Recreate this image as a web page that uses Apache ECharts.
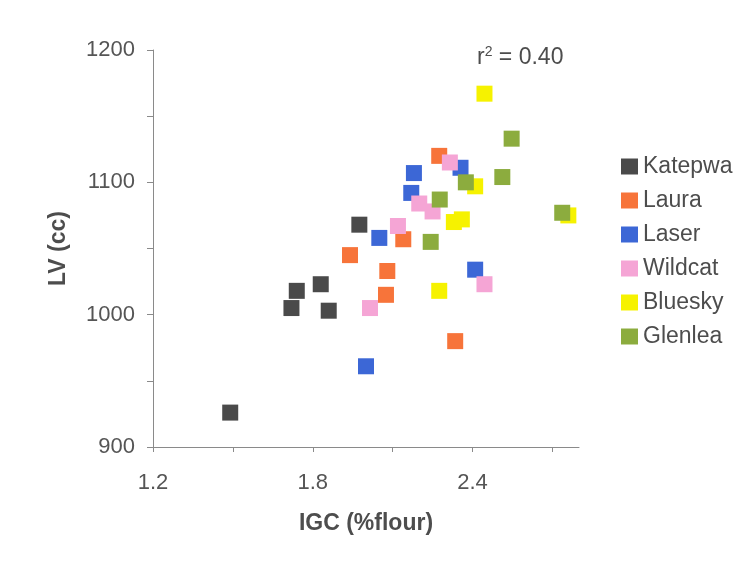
<!DOCTYPE html>
<html>
<head>
<meta charset="utf-8">
<script src="https://cdn.jsdelivr.net/npm/echarts@6/dist/echarts.min.js"></script>
<style>
  html, body { margin: 0; padding: 0; background: #fff; }
  #chart { width: 744px; height: 561px; }
</style>
</head>
<body>
<div id="chart"></div>
<script>
// Cultivar names (legend order = draw order)
const cultivars = ['Katepwa', 'Laura', 'Laser', 'Wildcat', 'Bluesky', 'Glenlea'];
const colors = ['#4a4a4a', '#f7743a', '#3c67d6', '#f5a5d5', '#f6f200', '#8cac3e'];

// [IGC (%flour), LV (cc)] per cultivar
const katepwa = [[1.49, 926], [1.72, 1005], [1.74, 1018], [1.83, 1023], [1.86, 1003], [1.975, 1068]];
const laura   = [[2.275, 1120], [1.94, 1045], [2.14, 1057], [2.08, 1033], [2.075, 1015], [2.335, 980]];
const laser   = [[2.18, 1107], [2.17, 1092], [2.355, 1111], [2.05, 1058], [2.41, 1034], [2.0, 961]];
const wildcat = [[2.315, 1115], [2.20, 1084], [2.25, 1078], [2.12, 1067], [2.445, 1023], [2.015, 1005]];
const bluesky = [[2.445, 1167], [2.41, 1097], [2.33, 1070], [2.36, 1072], [2.275, 1018], [2.76, 1075]];
const glenlea = [[2.547, 1133], [2.512, 1104], [2.375, 1100], [2.277, 1087], [2.243, 1055], [2.737, 1077]];
const seriesData = [katepwa, laura, laser, wildcat, bluesky, glenlea];

// Axis ticks and labels
const xTicks = [1.2, 1.5, 1.8, 2.1, 2.4, 2.7];
const xLabels = [1.2, 1.8, 2.4];
const yTicks = [900, 950, 1000, 1050, 1100, 1150, 1200];
const yLabels = [900, 1000, 1100, 1200];

const fontFamily = '"Liberation Sans", Arial, sans-serif';
const axisColor = '#8a8a8a';
const textColor = '#4d4d4d';

const chart = echarts.init(document.getElementById('chart'));
chart.setOption({
  backgroundColor: '#ffffff',
  animation: false,
  grid: { left: 153, top: 50, right: 165, bottom: 114 },
  xAxis: {
    type: 'value', min: 1.2, max: 2.8,
    name: 'IGC (%flour)', nameLocation: 'middle', nameGap: 65,
    nameTextStyle: { fontFamily, fontSize: 23, fontWeight: 'bold', color: textColor },
    axisLine: { show: true, lineStyle: { color: axisColor, width: 1 } },
    axisTick: { show: true, inside: false, length: 5, customValues: xTicks, lineStyle: { color: axisColor } },
    axisLabel: { customValues: xLabels, formatter: v => v.toFixed(1), fontFamily, fontSize: 22, color: '#555', margin: 25 },
    splitLine: { show: false }
  },
  yAxis: {
    type: 'value', min: 900, max: 1200,
    name: 'LV (cc)', nameLocation: 'middle', nameGap: 83,
    nameTextStyle: { fontFamily, fontSize: 23, fontWeight: 'bold', color: textColor },
    axisLine: { show: true, lineStyle: { color: axisColor, width: 1 } },
    axisTick: { show: true, inside: false, length: 6, customValues: yTicks, lineStyle: { color: axisColor } },
    axisLabel: { customValues: yLabels, formatter: v => String(v), fontFamily, fontSize: 22, color: '#555', margin: 18 },
    splitLine: { show: false }
  },
  legend: {
    orient: 'vertical', left: 616, top: 150,
    icon: 'rect', itemWidth: 17, itemHeight: 16, itemGap: 11,
    textStyle: { fontFamily, fontSize: 23, color: textColor },
    data: cultivars
  },
  graphic: [{
    type: 'text', left: 477, top: 45,
    style: {
      text: '{a|r}{b|2}{a| = 0.40}',
      rich: {
        a: { fontFamily, fontSize: 23, fill: textColor },
        b: { fontFamily, fontSize: 14, fill: textColor, verticalAlign: 'top', padding: [0, 0, 11, 0] }
      }
    }
  }],
  series: cultivars.map((name, i) => ({
    name, type: 'scatter', symbol: 'rect', symbolSize: 16,
    itemStyle: { color: colors[i], opacity: 1 },
    emphasis: { disabled: true },
    data: seriesData[i]
  }))
});
</script>
</body>
</html>
